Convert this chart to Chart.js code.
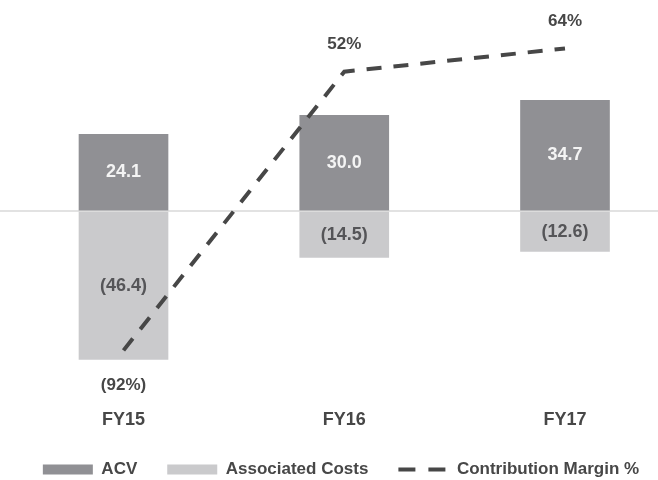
<!DOCTYPE html>
<html>
<head>
<meta charset="utf-8">
<script src="https://cdn.jsdelivr.net/npm/chart.js@4/dist/chart.umd.min.js"></script>
<style>
  html, body { margin: 0; padding: 0; background: #fff; }
  #wrap { width: 658px; height: 480px; position: relative; }
</style>
</head>
<body>
<div id="wrap"><canvas id="marginChart"></canvas></div>
<script>
document.addEventListener('DOMContentLoaded', () => {

  const categories = ['FY15', 'FY16', 'FY17']
  const acv = [24.1, 30.0, 34.7]
  const associatedCosts = [-46.4, -14.5, -12.6]
  const contributionMargin = [-92, 52, 64]

  const FONT = "'Liberation Sans', Arial, sans-serif"
  const TEXT = '#474747'

  const toPoints = values => values.map((v, i) => ({ x: i, y: v }))

  // numbers written on the bars and next to the line points
  const valueLabels = {
    id: 'valueLabels',
    afterLayout(chart) {
      // nudge the legend row a bit to the right
      chart.legend.left += 12
      chart.legend.right += 12
    },
    afterDatasetsDraw(chart) {
      const ctx = chart.ctx
      ctx.save()
      ctx.textAlign = 'center'
      ctx.textBaseline = 'middle'
      chart.data.datasets.forEach((ds, i) => {
        const meta = chart.getDatasetMeta(i)
        meta.data.forEach((el, j) => {
          const v = ds.data[j].y
          if (ds.type === 'line') {
            const text = v < 0 ? `(${Math.abs(v)}%)` : `${v}%`
            ctx.font = `bold 17px ${FONT}`
            ctx.fillStyle = TEXT
            ctx.fillText(text, el.x, v < 0 ? el.y + 35 : el.y - 27)
          } else {
            const { x, y, base } = el.getProps(['x', 'y', 'base'], true)
            const text = v < 0 ? `(${Math.abs(v).toFixed(1)})` : v.toFixed(1)
            ctx.font = `bold 18px ${FONT}`
            ctx.fillStyle = v < 0 ? '#555558' : '#f4f4f4'
            ctx.fillText(text, x, (y + base) / 2)
          }
        })
      })
      ctx.restore()
    }
  }

  new Chart(document.getElementById('marginChart'), {
    type: 'bar',
    data: {
      datasets: [{
        label: 'ACV',
        data: toPoints(acv),
        backgroundColor: '#909094',
        barThickness: 89,
        grouped: false,
        yAxisID: 'y',
        order: 1
      }, {
        label: 'Associated Costs',
        data: toPoints(associatedCosts),
        backgroundColor: '#cacacc',
        barThickness: 89,
        grouped: false,
        yAxisID: 'y',
        order: 2
      }, {
        type: 'line',
        label: 'Contribution Margin %',
        data: toPoints(contributionMargin),
        borderColor: '#474747',
        borderWidth: 4,
        borderDash: [15, 12],
        pointRadius: 0,
        tension: 0,
        fill: false,
        yAxisID: 'y2',
        order: 0
      }]
    },
    options: {
      responsive: true,
      maintainAspectRatio: false,
      animation: false,
      layout: { padding: { top: 0, left: 0, right: 0, bottom: -8 } },
      scales: {
        x: {
          type: 'linear',
          offset: false,
          min: -0.5595,
          max: 2.4213,
          border: { display: false },
          grid: { display: false, drawTicks: false },
          ticks: {
            stepSize: 1,
            includeBounds: false,
            padding: 0,
            autoSkip: false,
            maxRotation: 0,
            color: TEXT,
            font: { family: FONT, size: 18, weight: 'bold' },
            callback: v => Number.isInteger(v) ? categories[v] : ''
          }
        },
        y: {
          min: -62.07,
          max: 66.14,
          border: { display: false },
          ticks: { display: false },
          grid: {
            drawTicks: false,
            lineWidth: 2,
            color: ctx => ctx.tick.value === 0 ? '#e2e2e2' : 'rgba(0,0,0,0)'
          }
        },
        y2: {
          display: false,
          min: -122.5,
          max: 89.03
        }
      },
      plugins: {
        tooltip: { enabled: false },
        legend: {
          position: 'bottom',
          labels: {
            usePointStyle: true,
            pointStyleWidth: 50,
            boxHeight: 10,
            padding: 30,
            color: TEXT,
            font: { family: FONT, size: 17, weight: 'bold' },
            generateLabels: chart => chart.data.datasets.map((ds, i) => {
              const isLine = ds.type === 'line'
              return {
                text: ds.label,
                datasetIndex: i,
                fillStyle: isLine ? 'rgba(0,0,0,0)' : ds.backgroundColor,
                strokeStyle: isLine ? ds.borderColor : ds.backgroundColor,
                lineWidth: isLine ? 4 : 0,
                lineDash: isLine ? [17, 13] : [],
                pointStyle: isLine ? 'line' : 'rect',
                fontColor: TEXT,
                hidden: false
              }
            })
          }
        }
      }
    },
    plugins: [valueLabels]
  })

})
</script>
</body>
</html>
